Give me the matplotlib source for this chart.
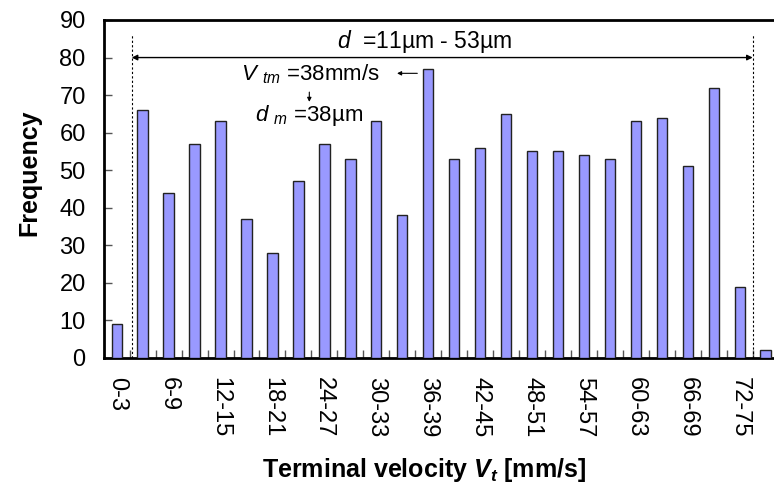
import matplotlib
matplotlib.use("Agg")
import matplotlib.pyplot as plt

plt.rcParams['font.family'] = ['Liberation Sans', 'DejaVu Sans']
plt.rcParams['mathtext.fontset'] = 'custom'
plt.rcParams['mathtext.rm'] = 'Liberation Sans'
plt.rcParams['mathtext.it'] = 'Liberation Sans:italic'
plt.rcParams['mathtext.bf'] = 'Liberation Sans:bold'
plt.rcParams['mathtext.bfit'] = 'Liberation Sans:bold:italic'

# velocity bins [mm/s]
bins = ['0-3', '3-6', '6-9', '9-12', '12-15', '15-18', '18-21', '21-24', '24-27', '27-30',
        '30-33', '33-36', '36-39', '39-42', '42-45', '45-48', '48-51', '51-54', '54-57',
        '57-60', '60-63', '63-66', '66-69', '69-72', '72-75', '75-78']
freq = [9, 66, 44, 57, 63, 37, 28, 47, 57, 53, 63, 38, 77, 53, 56, 65, 55, 55, 54, 53,
        63, 64, 51, 72, 19, 2]
yticks = [0, 10, 20, 30, 40, 50, 60, 70, 80, 90]

fig = plt.figure(figsize=(7.74, 5.0), dpi=100)
ax = fig.add_axes([0.134, 0.284, 0.872, 0.676])

x = range(len(bins))
ax.bar(x, freq, width=0.4, color='#9999ff', edgecolor='#222222', linewidth=1.0, zorder=3)

ax.set_xlim(-0.5, len(bins) - 0.5)
ax.set_ylim(0, 90)
ax.set_yticks(yticks)
ax.set_yticklabels([str(v) for v in yticks], fontsize=17)

# labels every other bin, ticks on bin boundaries
ax.set_xticks(list(x)[::2])
ax.set_xticklabels(bins[::2], rotation=270, fontsize=17)
ax.tick_params(axis='x', length=0, pad=14)
ax.set_xticks([i + 0.5 for i in x][:-1], minor=True)
ax.tick_params(axis='x', which='minor', direction='in', length=6, width=1, color='#555555')
ax.tick_params(axis='y', direction='in', length=6, width=1, color='#555555', pad=13)

for s in ['left', 'bottom', 'top']:
    ax.spines[s].set_linewidth(2)
ax.spines['right'].set_visible(False)

ax.set_ylabel('Frequency', fontsize=18, fontweight='bold')
ax.yaxis.set_label_coords(-0.092, 0.547)
ax.set_xlabel('Terminal velocity $\\mathbfit{V_t}$ [mm/s]', fontsize=18, fontweight='bold')
ax.xaxis.set_label_coords(0.474, -0.29)

# range markers
d_lo, d_hi = 0.58, 24.5
ax.plot([d_lo, d_lo], [0, 86], ls=(0, (2, 2)), color='black', lw=0.8, zorder=2)
ax.plot([d_hi, d_hi], [0, 86], ls=(0, (2, 2)), color='black', lw=0.8, zorder=2)
ax.annotate('', xy=(d_lo, 80), xytext=(d_hi, 80),
            arrowprops=dict(arrowstyle='<|-|>', color='black', lw=1, mutation_scale=8,
                            shrinkA=0, shrinkB=0))
ax.text(11.85, 84.2, '$\\it{d}$  =11µm - 53µm', fontsize=16.5, ha='center', va='center')

ax.text(7.46, 75.7, '$\\it{V}$ $_{\\it{tm}}$ =38mm/s', fontsize=16, ha='center', va='center')
ax.annotate('', xy=(10.8, 75.8), xytext=(11.58, 75.8),
            arrowprops=dict(arrowstyle='-|>', color='black', lw=0.8, mutation_scale=6,
                            shrinkA=0, shrinkB=0))
ax.annotate('', xy=(7.42, 68.2), xytext=(7.42, 70.8),
            arrowprops=dict(arrowstyle='-|>', color='black', lw=0.8, mutation_scale=6,
                            shrinkA=0, shrinkB=0))
ax.text(7.42, 64.6, '$\\it{d}$ $_{\\it{m}}$ =38µm', fontsize=16, ha='center', va='center')

fig.savefig('out.png', dpi=100)
